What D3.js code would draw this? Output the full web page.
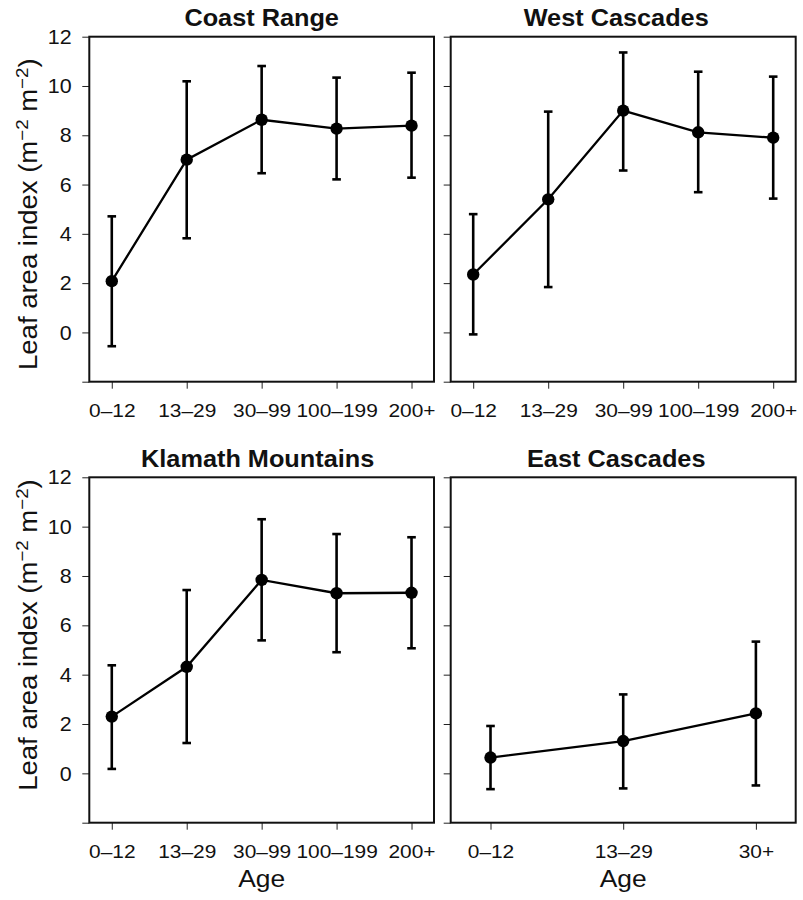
<!DOCTYPE html>
<html>
<head>
<meta charset="utf-8">
<script src="https://cdn.jsdelivr.net/npm/d3@7"></script>
<style>
  html, body { margin: 0; padding: 0; background: #fff; }
  svg { display: block; font-family: "Liberation Sans", Arial, Helvetica, sans-serif; }
</style>
</head>
<body>
<svg id="chart" width="803" height="900"></svg>
<script>
// Age classes
const ageClasses = ["0–12", "13–29", "30–99", "100–199", "200+"];
const eastAgeClasses = ["0–12", "13–29", "30+"];

// Leaf area index: mean with lower / upper error-bar ends
const coastMean = [2.08, 7.01, 8.63, 8.27, 8.39];
const coastLo   = [-0.56, 3.82, 6.46, 6.21, 6.28];
const coastHi   = [4.71, 10.19, 10.81, 10.34, 10.54];

const westMean  = [2.35, 5.40, 9.00, 8.12, 7.90];
const westLo    = [-0.08, 1.84, 6.57, 5.69, 5.43];
const westHi    = [4.80, 8.96, 11.36, 10.58, 10.38];

const klamathMean = [2.30, 4.32, 7.84, 7.30, 7.32];
const klamathLo   = [0.18, 1.23, 5.39, 4.91, 5.07];
const klamathHi   = [4.38, 7.43, 10.30, 9.70, 9.57];

const eastMean  = [0.64, 1.31, 2.43];
const eastLo    = [-0.64, -0.61, -0.49];
const eastHi    = [1.92, 3.20, 5.34];

const yTicks = [-2, 0, 2, 4, 6, 8, 10, 12];
const yDomain = [-2, 12];

const panels = [
  { title: "Coast Range", cats: ageClasses, mean: coastMean, lo: coastLo, hi: coastHi,
    x0: 89.3, x1: 434, y0: 36.7, y1: 381.7, left: true, bottom: false, titleDx: 0, labelDy: 5 },
  { title: "West Cascades", cats: ageClasses, mean: westMean, lo: westLo, hi: westHi,
    x0: 450.7, x1: 795.7, y0: 36.7, y1: 381.7, left: false, bottom: false, titleDx: -7 },
  { title: "Klamath Mountains", cats: ageClasses, mean: klamathMean, lo: klamathLo, hi: klamathHi,
    x0: 89.3, x1: 434, y0: 477.3, y1: 822.7, left: true, bottom: true, titleDx: -4, labelDy: -15 },
  { title: "East Cascades", cats: eastAgeClasses, mean: eastMean, lo: eastLo, hi: eastHi,
    x0: 450.7, x1: 795.7, y0: 477.3, y1: 822.7, left: false, bottom: true, titleDx: -7 }
];

const svg = d3.select("#chart");
const SX = 1.1; // horizontal text stretch

panels.forEach(p => {
  const g = svg.append("g");
  const x = d3.scalePoint().domain(p.cats).range([p.x0, p.x1]).padding(0.3);
  const y = d3.scaleLinear().domain(yDomain).range([p.y1, p.y0]);

  // y axis
  const ya = g.append("g").attr("transform", `translate(${p.x0},0)`)
    .call(d3.axisLeft(y).tickValues(yTicks).tickSize(7)
      .tickFormat(d => (p.left && d !== -2) ? d : ""));
  ya.select(".domain").remove();
  ya.selectAll(".tick line").attr("stroke", "#222").attr("stroke-width", 1);
  ya.selectAll(".tick text")
    .attr("x", 0).attr("dy", "0.34em")
    .attr("transform", `translate(-17.6,0) scale(${SX},1)`)
    .attr("font-size", 19.5).attr("fill", "#111")
    .attr("font-family", "Liberation Sans, Arial, sans-serif");

  // x axis
  const xa = g.append("g").attr("transform", `translate(0,${p.y1})`)
    .call(d3.axisBottom(x).tickSize(7));
  xa.select(".domain").remove();
  xa.selectAll(".tick line").attr("stroke", "#222").attr("stroke-width", 1);
  xa.selectAll(".tick text")
    .attr("y", 0).attr("dy", 0)
    .attr("transform", `translate(0,35) scale(${SX},1)`)
    .attr("font-size", 19).attr("fill", "#111")
    .attr("font-family", "Liberation Sans, Arial, sans-serif");

  // frame
  g.append("rect")
    .attr("x", p.x0).attr("y", p.y0)
    .attr("width", p.x1 - p.x0).attr("height", p.y1 - p.y0)
    .attr("fill", "none").attr("stroke", "#111").attr("stroke-width", 2);

  // title
  g.append("text")
    .attr("transform", `translate(${(p.x0 + p.x1) / 2 + p.titleDx},${p.y0 - 10.5}) scale(${SX},1)`)
    .attr("text-anchor", "middle")
    .attr("font-size", 23).attr("font-weight", "bold").attr("fill", "#111")
    .text(p.title);

  const rows = p.cats.map((c, i) => ({ c, m: p.mean[i], lo: p.lo[i], hi: p.hi[i] }));

  // error bars
  const eb = g.append("g").attr("stroke", "#000").attr("stroke-width", 2.6).attr("fill", "none");
  eb.selectAll("line.v").data(rows).join("line").attr("class", "v")
    .attr("x1", d => x(d.c)).attr("x2", d => x(d.c))
    .attr("y1", d => y(d.lo)).attr("y2", d => y(d.hi));
  eb.selectAll("line.cap-hi").data(rows).join("line").attr("class", "cap-hi")
    .attr("x1", d => x(d.c) - 4.3).attr("x2", d => x(d.c) + 4.3)
    .attr("y1", d => y(d.hi)).attr("y2", d => y(d.hi));
  eb.selectAll("line.cap-lo").data(rows).join("line").attr("class", "cap-lo")
    .attr("x1", d => x(d.c) - 4.3).attr("x2", d => x(d.c) + 4.3)
    .attr("y1", d => y(d.lo)).attr("y2", d => y(d.lo));

  // connecting line
  g.append("path").datum(rows)
    .attr("fill", "none").attr("stroke", "#000").attr("stroke-width", 2.3)
    .attr("d", d3.line().x(d => x(d.c)).y(d => y(d.m)));

  // points
  g.selectAll("circle").data(rows).join("circle")
    .attr("cx", d => x(d.c)).attr("cy", d => y(d.m)).attr("r", 6.2)
    .attr("fill", "#000");

  // y-axis title (stretched along its reading direction)
  if (p.left) {
    const t = g.append("text")
      .attr("transform", `translate(37,${(p.y0 + p.y1) / 2 + p.labelDy}) rotate(-90) scale(${SX},1)`)
      .attr("text-anchor", "middle")
      .attr("font-size", 25).attr("fill", "#111");
    t.append("tspan").text("Leaf area index (m");
    t.append("tspan").attr("font-size", 17).attr("dy", -9).text("−2");
    t.append("tspan").attr("dy", 9).text(" m");
    t.append("tspan").attr("font-size", 17).attr("dy", -9).text("−2");
    t.append("tspan").attr("dy", 9).text(")");
  }

  // x-axis title
  if (p.bottom) {
    g.append("text")
      .attr("transform", `translate(${(p.x0 + p.x1) / 2},887) scale(${SX},1)`)
      .attr("text-anchor", "middle")
      .attr("font-size", 24).attr("fill", "#111")
      .text("Age");
  }
});
</script>
</body>
</html>
